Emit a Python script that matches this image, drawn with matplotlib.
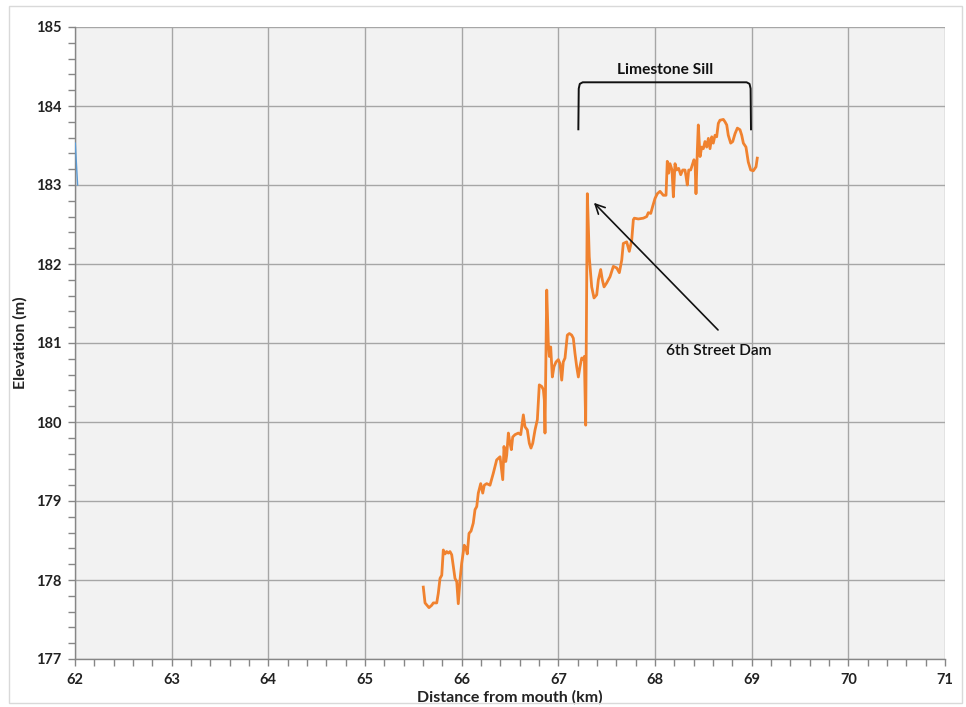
import matplotlib
matplotlib.use("Agg")
import matplotlib.pyplot as plt
from matplotlib.patches import Rectangle
from matplotlib.ticker import MultipleLocator

plt.rcParams['font.family'] = ['Lato', 'DejaVu Sans']

# River profile: distance from mouth (km) vs bed elevation (m)
distance_km = [
    65.603, 65.621, 65.662, 65.690, 65.707, 65.742, 65.758, 65.776, 65.794, 65.810,
    65.828, 65.845, 65.862, 65.879, 65.897, 65.914, 65.931, 65.949, 65.965, 65.983,
    66.000, 66.027, 66.045, 66.058, 66.076, 66.097, 66.120, 66.138, 66.156, 66.172,
    66.197, 66.218, 66.234, 66.259, 66.293, 66.327, 66.362, 66.397, 66.425, 66.438,
    66.456, 66.466, 66.483, 66.500, 66.514, 66.528, 66.552, 66.586, 66.611, 66.638,
    66.655, 66.679, 66.700, 66.717, 66.735, 66.759, 66.783, 66.803, 66.828, 66.845,
    66.855, 66.862, 66.880, 66.896, 66.907, 66.921, 66.938, 66.955, 66.976, 67.000,
    67.017, 67.035, 67.051, 67.069, 67.093, 67.114, 67.138, 67.155, 67.172, 67.190,
    67.207, 67.224, 67.242, 67.258, 67.269, 67.283, 67.300, 67.320, 67.345, 67.369,
    67.397, 67.414, 67.438, 67.455, 67.473, 67.500, 67.535, 67.569, 67.604, 67.631,
    67.656, 67.672, 67.707, 67.734, 67.759, 67.776, 67.786, 67.827, 67.879, 67.914,
    67.931, 67.956, 67.976, 68.000, 68.024, 68.052, 68.086, 68.114, 68.127, 68.142,
    68.155, 68.176, 68.190, 68.207, 68.224, 68.245, 68.266, 68.287, 68.310, 68.321,
    68.334, 68.349, 68.369, 68.390, 68.403, 68.414, 68.424, 68.438, 68.448, 68.466,
    68.483, 68.500, 68.517, 68.535, 68.552, 68.569, 68.587, 68.603, 68.621, 68.638,
    68.655, 68.672, 68.707, 68.724, 68.742, 68.758, 68.783, 68.804, 68.828, 68.852,
    68.879, 68.897, 68.914, 68.941, 68.965, 68.990, 69.017, 69.045, 69.058,
]
elevation_m = [
    177.91, 177.71, 177.65, 177.68, 177.71, 177.71, 177.83, 178.02, 178.06, 178.38,
    178.33, 178.36, 178.34, 178.36, 178.32, 178.17, 178.02, 177.98, 177.70, 178.00,
    178.21, 178.44, 178.40, 178.33, 178.59, 178.62, 178.72, 178.89, 178.93, 179.10,
    179.22, 179.10, 179.20, 179.22, 179.20, 179.35, 179.52, 179.56, 179.27, 179.69,
    179.50, 179.58, 179.86, 179.73, 179.65, 179.81, 179.84, 179.86, 179.84, 180.09,
    179.94, 179.90, 179.73, 179.67, 179.73, 179.90, 180.03, 180.47, 180.45, 180.41,
    180.28, 179.86, 181.67, 181.00, 180.83, 180.95, 180.57, 180.70, 180.76, 180.79,
    180.74, 180.53, 180.76, 180.81, 181.10, 181.12, 181.10, 181.06, 180.87, 180.70,
    180.57, 180.70, 180.81, 180.79, 180.83, 179.96, 182.89, 182.09, 181.71, 181.57,
    181.61, 181.80, 181.93, 181.80, 181.71, 181.76, 181.84, 181.97, 181.95, 181.89,
    182.05, 182.26, 182.28, 182.16, 182.30, 182.56, 182.58, 182.57, 182.58, 182.60,
    182.65, 182.64, 182.73, 182.83, 182.89, 182.92, 182.87, 182.87, 183.30, 183.15,
    183.27, 183.19, 182.85, 183.27, 183.19, 183.21, 183.13, 183.19, 183.19, 183.11,
    183.00, 183.19, 183.19, 183.27, 183.32, 183.29, 182.89, 183.44, 183.76, 183.36,
    183.48, 183.46, 183.55, 183.48, 183.59, 183.46, 183.61, 183.53, 183.63, 183.61,
    183.78, 183.82, 183.83, 183.80, 183.76, 183.63, 183.53, 183.55, 183.65, 183.72,
    183.70, 183.63, 183.53, 183.48, 183.29, 183.19, 183.18, 183.23, 183.34,
]

# Second series, only a sliver of it falls inside the plotted range
other_km = [62.003, 62.027]
other_m = [183.53, 183.00]

x_ticks = [62, 63, 64, 65, 66, 67, 68, 69, 70, 71]
y_ticks = [177, 178, 179, 180, 181, 182, 183, 184, 185]

W, H = 966, 707
fig = plt.figure(figsize=(W / 100, H / 100), dpi=100)
fig.patch.set_facecolor('white')

# Chart-area frame
fig.add_artist(Rectangle((9 / W, 1 - 703 / H), (962 - 9) / W, (703 - 6) / H,
                         transform=fig.transFigure, fill=False,
                         edgecolor='#D9D9D9', linewidth=1.0))

ax = fig.add_axes([75 / W, 1 - 659 / H, (945 - 75) / W, (659 - 27) / H])
ax.set_facecolor('#F2F2F2')

ax.plot(other_km, other_m, color='#5B9BD5', linewidth=1.0, zorder=3)
ax.plot(distance_km, elevation_m, color='#F0822F', linewidth=2.0, zorder=4,
        solid_joinstyle='round')

ax.set_xlim(62, 71)
ax.set_ylim(177, 185)
ax.set_xticks(x_ticks)
ax.set_yticks(y_ticks)
ax.xaxis.set_minor_locator(MultipleLocator(0.2))
ax.yaxis.set_minor_locator(MultipleLocator(0.2))
ax.grid(True, which='major', color='#A6A6A6', linewidth=1.0)
ax.set_axisbelow(True)

for side in ('top', 'right'):
    ax.spines[side].set_visible(False)
for side in ('left', 'bottom'):
    ax.spines[side].set_color('#868686')
    ax.spines[side].set_linewidth(1.0)

ax.tick_params(which='both', direction='out', color='#868686', length=5, width=1)
ax.tick_params(which='major', labelsize=10.5, pad=5)
for lab in ax.get_xticklabels() + ax.get_yticklabels():
    lab.set_fontweight('bold')
    lab.set_color('#222222')

ax.set_xlabel('Distance from mouth (km)', fontsize=11.5, fontweight='bold',
              color='#222222', labelpad=2)
ax.set_ylabel('Elevation (m)', fontsize=11.5, fontweight='bold',
              color='#222222', labelpad=6)

# Bracket over the limestone sill reach
bx0, bx1, by0, by1 = 67.207, 68.993, 183.705, 184.30
ax.plot([bx0, bx0 + 0.004, bx0 + 0.015, bx0 + 0.045,
         bx1 - 0.045, bx1 - 0.015, bx1 - 0.004, bx1],
        [by0, by1 - 0.08, by1 - 0.02, by1,
         by1, by1 - 0.02, by1 - 0.08, by0],
        color='#111111', linewidth=1.4, zorder=5, solid_joinstyle='round')
ax.text((bx0 + bx1) / 2, 184.45, 'Limestone Sill', ha='center', va='center',
        fontsize=11.2, fontweight='bold', color='#111111')

# Dam annotation
ax.annotate('', xy=(67.348, 182.80), xytext=(68.672, 181.14),
            arrowprops=dict(arrowstyle='->', color='#111111', lw=1.2,
                            mutation_scale=17), zorder=5)
ax.text(68.66, 180.90, '6th Street Dam', ha='center', va='center',
        fontsize=11.2, fontweight='semibold', color='#111111')

fig.savefig('out.png', dpi=100, facecolor='white')
